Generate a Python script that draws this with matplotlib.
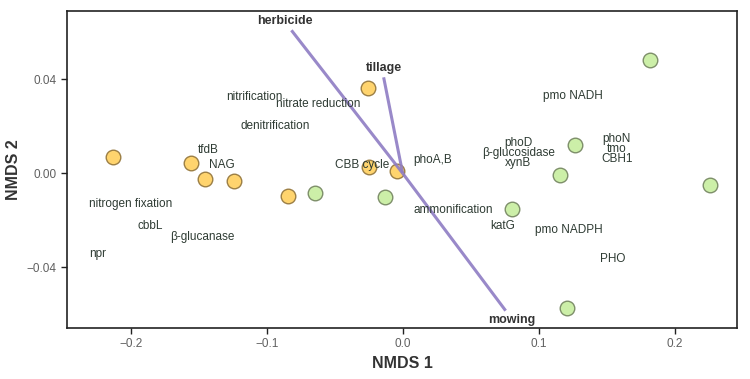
import numpy as np
import matplotlib
matplotlib.use("Agg")
import matplotlib.pyplot as plt

plt.rcParams['font.family'] = ['Liberation Sans', 'DejaVu Sans']

# site scores (NMDS 1, NMDS 2)
orange_x = [-0.213, -0.156, -0.145, -0.124, -0.0846, -0.0257, -0.025, -0.0044]
orange_y = [0.0070, 0.0045, -0.0023, -0.0032, -0.0096, 0.0364, 0.0028, 0.0011]
green_x = [-0.0643, -0.0132, 0.0807, 0.1208, 0.2257, 0.1154, 0.1265, 0.1816]
green_y = [-0.0084, -0.0099, -0.0152, -0.0571, -0.0049, -0.0006, 0.0121, 0.0483]

# management vectors
vec_names = ['herbicide', 'tillage', 'mowing']
vec_x = [-0.0818, -0.0140, 0.0757]
vec_y = [0.0608, 0.0408, -0.0584]
vec_lab_x = [-0.0863, -0.0140, 0.0804]
vec_lab_y = [0.0646, 0.0449, -0.0623]

# functional genes / processes (stacked labels share one position)
gene_names = ['nitrification', 'nitrate reduction', 'denitrification', 'tfdB', 'NAG',
              'CBB cycle', 'phoA,B', 'pmo NADH', 'phoD\nβ-glucosidase\nxynB',
              'phoN\ntmo\nCBH1', 'nitrogen fixation', 'cbbL', 'β-glucanase',
              'npr', 'ammonification', 'katG', 'pmo NADPH', 'PHO']
gene_x = [-0.1088, -0.0623, -0.0934, -0.1426, -0.1328, -0.0301, 0.0218, 0.1252,
          0.0850, 0.1575, -0.2000, -0.1860, -0.1473, -0.2240, 0.0370, 0.0733,
          0.1223, 0.1542]
gene_y = [0.0324, 0.0294, 0.0202, 0.0097, 0.0037, 0.0036, 0.0055, 0.0327,
          0.0087, 0.0104, -0.0130, -0.0226, -0.0272, -0.0343, -0.0158, -0.0223,
          -0.0243, -0.0365]

fig, ax = plt.subplots(figsize=(7.5, 3.79), dpi=100)
fig.subplots_adjust(left=0.089, right=0.983, top=0.971, bottom=0.135)

ax.scatter(orange_x, orange_y, s=110, c='#FFD46E', edgecolors='#9C7F45',
           linewidths=1.0, zorder=2)
ax.scatter(green_x, green_y, s=110, c='#CCEFA8', edgecolors='#7E8F6A',
           linewidths=1.0, zorder=2)

for vx, vy in zip(vec_x, vec_y):
    ax.plot([0, vx], [0, vy], color='#8E7CC3', lw=2.2, alpha=0.9,
            solid_capstyle='butt', zorder=3)
for name, lx, ly in zip(vec_names, vec_lab_x, vec_lab_y):
    ax.text(lx, ly, name, ha='center', va='center', fontsize=9,
            fontweight='bold', color='#333333', zorder=4)

for name, gx, gy in zip(gene_names, gene_x, gene_y):
    ax.text(gx, gy, name, ha='center', va='center', fontsize=8.5,
            color='#2E3B33', linespacing=0.78, zorder=4)

ax.set_xlim(-0.247, 0.246)
ax.set_ylim(-0.0657, 0.069)
ax.set_xticks([-0.2, -0.1, 0.0, 0.1, 0.2])
ax.set_xticklabels(['\u22120.2', '\u22120.1', '0.0', '0.1', '0.2'])
ax.set_yticks([-0.04, 0.0, 0.04])
ax.set_yticklabels(['\u22120.04', '0.00', '0.04'])
ax.tick_params(direction='out', length=4, width=1.0, colors='#222222',
               labelcolor='#606060', labelsize=8.5)
for sp in ax.spines.values():
    sp.set_color('#222222')
    sp.set_linewidth(1.2)

ax.set_xlabel('NMDS 1', fontsize=11.5, fontweight='bold', color='#333333')
ax.set_ylabel('NMDS 2', fontsize=11.5, fontweight='bold', color='#333333')

fig.savefig('out.png', dpi=100)
